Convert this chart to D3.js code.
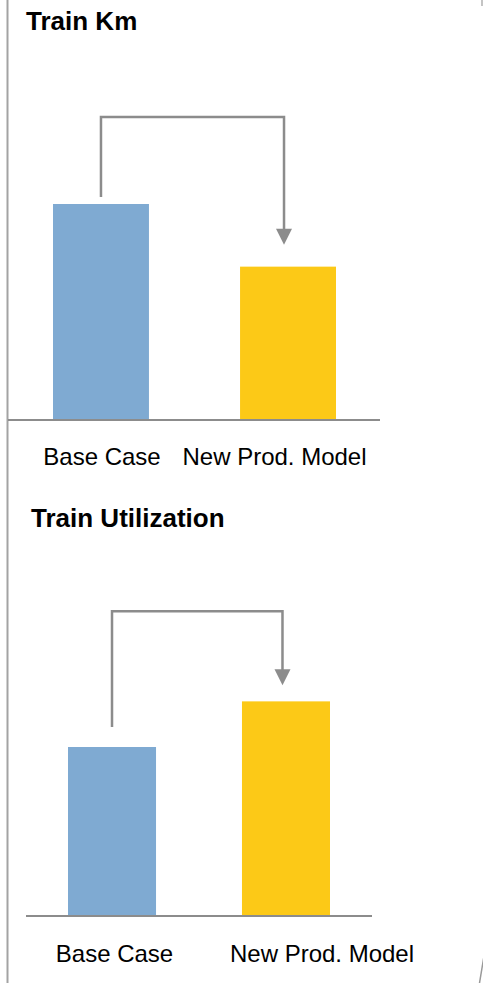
<!DOCTYPE html>
<html>
<head>
<meta charset="utf-8">
<script src="https://cdn.jsdelivr.net/npm/d3@7"></script>
<style>
  body { margin: 0; background: #fff; }
  svg { display: block; font-family: "Liberation Sans", Arial, sans-serif; }
</style>
</head>
<body>
<svg id="chart" width="483" height="983"></svg>
<script>
// data
var categories = ["Base Case", "New Prod. Model"];
var trainKm = [100, 71];
var trainUtil = [100, 127];
var titles = ["Train Km", "Train Utilization"];
var colors = ["#7faad2", "#fcc917"];

var svg = d3.select("#chart");
var grey = "#8c8c8c";

// frame line on the left
svg.append("line")
    .attr("x1", 7.5).attr("x2", 7.5)
    .attr("y1", 0).attr("y2", 983)
    .attr("stroke", "#a3a3a3")
    .attr("stroke-width", 2);

// edge marks on the right
svg.append("line")
    .attr("x1", 482).attr("x2", 482)
    .attr("y1", 0).attr("y2", 6)
    .attr("stroke", "#b0b0b0").attr("stroke-width", 1.5);
svg.append("path")
    .attr("d", "M484,956 L479.5,983")
    .attr("fill", "none")
    .attr("stroke", "#9a9a9a").attr("stroke-width", 1.5);

var layouts = [
  { values: trainKm, title: titles[0], titleX: 26, titleY: 30,
    base: 420, pxPer100: 216, axisX: [8, 380],
    band: [53, 336], pad: 0.487,
    labelX: [102, 274.5], labelY: 465,
    arrow: { startGap: 7, topAbove: 87, tipGap: 22, endShift: -4 } },
  { values: trainUtil, title: titles[1], titleX: 31, titleY: 527,
    base: 916, pxPer100: 169, axisX: [26, 372],
    band: [68, 330], pad: 0.494,
    labelX: [114.5, 322], labelY: 962,
    arrow: { startGap: 20, topAbove: 90, tipGap: 16, endShift: -3.5 } }
];

layouts.forEach(function(L) {
  var g = svg.append("g");

  var xScale = d3.scaleBand()
      .domain(categories)
      .range(L.band)
      .paddingInner(L.pad)
      .paddingOuter(0);

  var yScale = d3.scaleLinear()
      .domain([0, 100])
      .range([L.base, L.base - L.pxPer100]);

  g.append("text")
      .attr("x", L.titleX)
      .attr("y", L.titleY)
      .attr("font-size", "26px")
      .attr("font-weight", "bold")
      .attr("fill", "#000")
      .text(L.title);

  g.selectAll(".bar")
    .data(L.values)
    .enter()
    .append("rect")
      .classed("bar", true)
      .attr("x", (d, i) => xScale(categories[i]))
      .attr("width", xScale.bandwidth())
      .attr("y", d => yScale(d))
      .attr("height", d => yScale(0) - yScale(d))
      .attr("fill", (d, i) => colors[i]);

  // baseline
  g.append("line")
      .attr("x1", L.axisX[0]).attr("x2", L.axisX[1])
      .attr("y1", yScale(0)).attr("y2", yScale(0))
      .attr("stroke", grey)
      .attr("stroke-width", 2);

  g.selectAll(".cat")
    .data(categories)
    .enter()
    .append("text")
      .classed("cat", true)
      .attr("x", (d, i) => L.labelX[i])
      .attr("y", L.labelY)
      .attr("text-anchor", "middle")
      .attr("font-size", "24px")
      .attr("fill", "#000")
      .text(d => d);

  // elbow arrow from first bar to second
  var a = L.arrow;
  var x0 = xScale(categories[0]) + xScale.bandwidth() / 2;
  var x1 = xScale(categories[1]) + xScale.bandwidth() / 2 + a.endShift;
  var yStart = yScale(L.values[0]) - a.startGap;
  var yTop = yScale(d3.max(L.values)) - a.topAbove - (L.values[1] > L.values[0] ? 0 : 0);
  if (L.values[1] < L.values[0]) yTop = yScale(L.values[0]) - a.topAbove;
  else yTop = yScale(L.values[1]) - a.topAbove;
  var yTip = yScale(L.values[1]) - a.tipGap;
  var headH = 16, headW = 16;

  g.append("path")
      .attr("d", "M" + x0 + "," + yStart + " L" + x0 + "," + yTop +
                 " L" + x1 + "," + yTop + " L" + x1 + "," + (yTip - headH + 1))
      .attr("fill", "none")
      .attr("stroke", grey)
      .attr("stroke-width", 2.5);

  g.append("path")
      .attr("d", "M" + (x1 - headW / 2) + "," + (yTip - headH) +
                 " L" + (x1 + headW / 2) + "," + (yTip - headH) +
                 " L" + x1 + "," + yTip + " Z")
      .attr("fill", grey);
});
</script>
</body>
</html>
